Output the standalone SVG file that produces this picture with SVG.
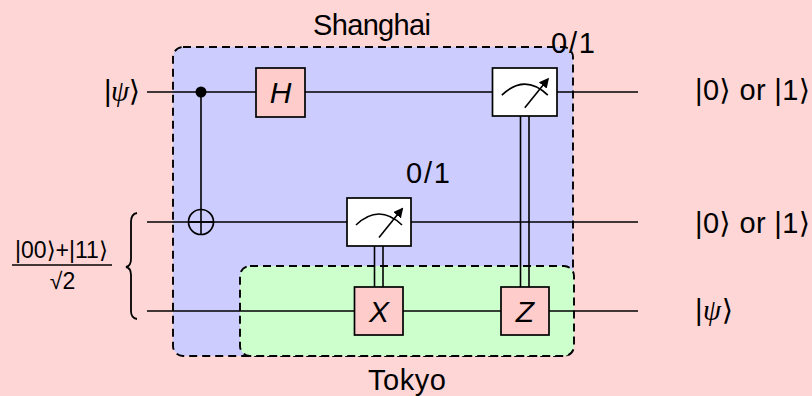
<svg xmlns="http://www.w3.org/2000/svg" width="812" height="396" viewBox="0 0 812 396">
<defs>
<style>
.region{stroke:#000;stroke-width:1.9;stroke-dasharray:8 5}
.wire{stroke:#000;stroke-width:1.6;fill:none}
.gate{fill:#ffcccc;stroke:#000;stroke-width:1.7}
.meter{fill:#fff;stroke:#000;stroke-width:1.7}
.lbl{font-family:"Liberation Sans","DejaVu Sans",sans-serif;font-size:29px;fill:#000}
.gl{font-family:"Liberation Sans","DejaVu Sans",sans-serif;font-size:30px;font-style:italic;fill:#000;text-anchor:middle}
.frac{font-family:"Liberation Sans","DejaVu Sans",sans-serif;font-size:23px;fill:#000;text-anchor:middle}
.psi{font-family:"Liberation Serif","DejaVu Serif",serif;font-style:italic}
.ket{font-family:"DejaVu Sans",sans-serif}
</style>
<marker id="ah" viewBox="0 0 10 10" refX="8" refY="5" markerWidth="10" markerHeight="10" markerUnits="userSpaceOnUse" orient="auto">
<path d="M0,0 L10,5 L0,10 Z" fill="#000"/>
</marker>
<g id="meterSym">
<path d="M-23,3 Q0,-19 23,3" class="wire" stroke-width="1.8"/>
<line x1="0" y1="15.5" x2="23" y2="-13" class="wire" stroke-width="1.8" marker-end="url(#ah)"/>
</g>
</defs>
<rect width="812" height="396" fill="#ffd6d6"/>
<g id="shanghai">
<rect class="region" x="173" y="47" width="400" height="309" rx="10" fill="#ccccff"/>
<text class="lbl" x="313" y="35" textLength="118">Shanghai</text>
</g>
<g id="tokyo">
<rect class="region" x="240" y="266" width="334" height="90" rx="10" fill="#ccffcc"/>
<text class="lbl" x="368" y="390" textLength="78">Tokyo</text>
</g>
<g id="connectors">
<line class="wire" x1="147" y1="92" x2="638" y2="92"/>
<line class="wire" x1="147" y1="222" x2="638" y2="222"/>
<line class="wire" x1="147" y1="311" x2="638" y2="311"/>
<line class="wire" x1="201" y1="92" x2="201" y2="234.5"/>
<line class="wire" x1="374.5" y1="246" x2="374.5" y2="287"/>
<line class="wire" x1="383" y1="246" x2="383" y2="287"/>
<line class="wire" x1="520.5" y1="116" x2="520.5" y2="287"/>
<line class="wire" x1="529" y1="116" x2="529" y2="287"/>
</g>
<g id="cnot-control"><circle cx="201" cy="92" r="5.5" fill="#000"/></g>
<g id="cnot-target">
<circle cx="201" cy="222" r="12.5" fill="none" stroke="#000" stroke-width="1.7"/>
<line class="wire" x1="188.5" y1="222" x2="213.5" y2="222"/>
</g>
<g id="gate-h">
<rect class="gate" x="256" y="68" width="49" height="49"/>
<text class="gl" x="280.5" y="103">H</text>
</g>
<g id="meter-top">
<rect class="meter" x="492.5" y="68" width="64.5" height="48"/>
<use href="#meterSym" x="524.8" y="92.2"/>
<text class="lbl" x="551" y="53" textLength="44">0/1</text>
</g>
<g id="meter-mid">
<rect class="meter" x="347" y="198" width="64" height="48"/>
<use href="#meterSym" x="379" y="222"/>
<text class="lbl" x="406" y="183" textLength="44">0/1</text>
</g>
<g id="gate-x">
<rect class="gate" x="354.5" y="287" width="48.5" height="48"/>
<text class="gl" x="379" y="322">X</text>
</g>
<g id="gate-z">
<rect class="gate" x="501" y="287" width="48" height="48"/>
<text class="gl" x="525" y="322">Z</text>
</g>
<g id="in-psi">
<text class="lbl" x="104" y="101" textLength="36">|<tspan class="psi">ψ</tspan><tspan class="ket">⟩</tspan></text>
</g>
<g id="in-bell">
<text class="frac" x="61.5" y="258">|00⟩+|11⟩</text>
<line x1="12" y1="265" x2="112" y2="265" stroke="#000" stroke-width="1.3"/>
<text class="frac" x="62.5" y="289">√2</text>
<path d="M137,213 Q131,214 131,222 L131,259 Q131,266 126,267 Q131,268 131,275 L131,311 Q131,318 137,319" fill="none" stroke="#000" stroke-width="1.8"/>
</g>
<g id="out-top"><text class="lbl" x="695" y="100" textLength="115">|0<tspan class="ket">⟩</tspan> or |1<tspan class="ket">⟩</tspan></text></g>
<g id="out-mid"><text class="lbl" x="695" y="233" textLength="115">|0<tspan class="ket">⟩</tspan> or |1<tspan class="ket">⟩</tspan></text></g>
<g id="out-bot"><text class="lbl" x="695" y="320" textLength="38">|<tspan class="psi">ψ</tspan><tspan class="ket">⟩</tspan></text></g>
</svg>
